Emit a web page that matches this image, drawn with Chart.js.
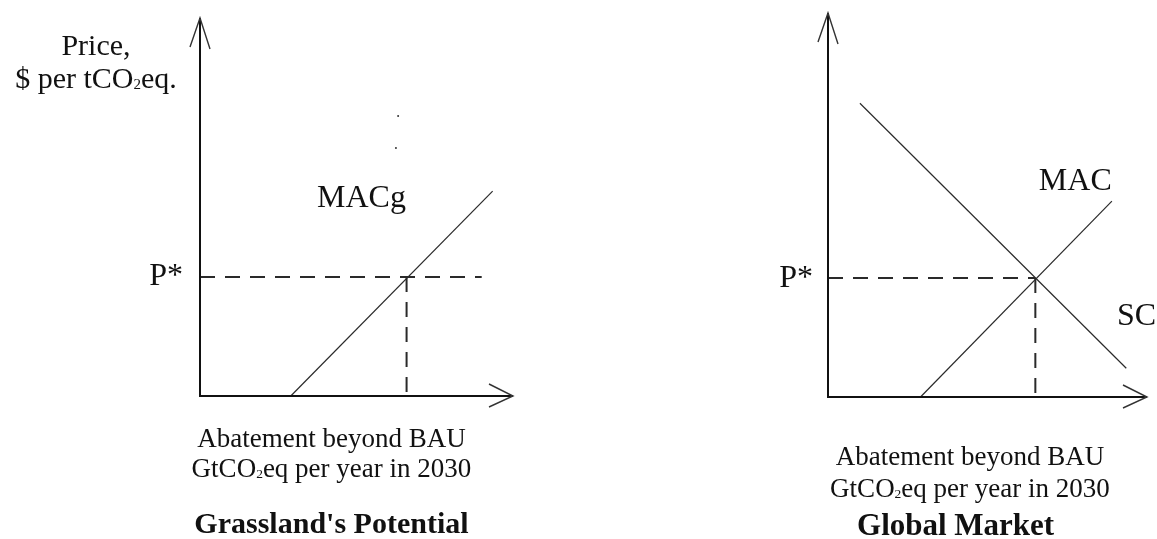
<!DOCTYPE html>
<html lang="en">
<head>
    <meta charset="UTF-8">
    <title>MAC | Grassland x Global Market</title>
    <script src="https://cdn.jsdelivr.net/npm/chart.js"></script>
    <style>
        body { margin: 0; background: #fff; width: 1157px; height: 539px; overflow: hidden; position: relative; }
        canvas { position: absolute; top: 0; }
        #chartGrass { left: 0; }
        #chartGlobal { left: 560px; }
    </style>
</head>
<body>
    <canvas id="chartGrass" width="560" height="539"></canvas>
    <canvas id="chartGlobal" width="597" height="539"></canvas>

<script>
    // schematic axes, no units
    var eixoMax = 10

    // Grassland's Potential
    var macgX = [2.9, 9.35]
    var macgY = [0, 5.42]
    var precoGrass = 3.15
    var qtdGrass = 6.6
    var fimTracoGrass = 9.0
    var pontosSoltosX = [6.33, 6.26]
    var pontosSoltosY = [7.41, 6.56]

    // Global Market
    var macX = [2.9, 8.9]
    var macY = [0, 5.1]
    var scX = [1.0, 9.35]
    var scY = [7.65, 0.75]
    var precoGlobal = 3.1
    var qtdGlobal = 6.5

    var fonte = '"Liberation Serif", "Times New Roman", serif'

    function pares(xs, ys) {
        return xs.map((x, i) => ({ x: x, y: ys[i] }))
    }

    // draws text runs, [texto, sub] - sub = true for the small "2" of CO2
    function desenharTexto(ctx, runs, x, y, align, size, bold) {
        var peso = bold ? 'bold ' : ''
        var larguras = runs.map(r => {
            ctx.font = peso + (r[1] ? size * 0.5 : size) + 'px ' + fonte
            return ctx.measureText(r[0]).width
        })
        var total = larguras.reduce((a, b) => a + b, 0)
        var inicio = x
        if (align == 'center') inicio = x - total / 2
        if (align == 'right') inicio = x - total
        ctx.textAlign = 'left'
        ctx.textBaseline = 'alphabetic'
        runs.forEach((r, i) => {
            ctx.font = peso + (r[1] ? size * 0.5 : size) + 'px ' + fonte
            ctx.fillText(r[0], inicio, r[1] ? y + size * 0.02 : y)
            inicio += larguras[i]
        })
    }

    var esquema = {
        id: 'esquema',
        afterDraw(chart, args, opts) {
            var ctx = chart.ctx
            var xs = chart.scales.x, ys = chart.scales.y
            var x0 = xs.getPixelForValue(0), y0 = ys.getPixelForValue(0)
            var xFim = xs.getPixelForValue(eixoMax), yFim = ys.getPixelForValue(eixoMax)
            ctx.save()
            // eixos
            ctx.strokeStyle = '#111'
            ctx.lineWidth = 2
            ctx.beginPath()
            ctx.moveTo(x0, y0 + 1)
            ctx.lineTo(x0, yFim)
            ctx.moveTo(x0 - 1, y0)
            ctx.lineTo(xFim, y0)
            ctx.stroke()
            // setas abertas
            ctx.strokeStyle = '#333'
            ctx.lineWidth = 1.4
            ctx.beginPath()
            ctx.moveTo(x0 - 10, yFim + 29)
            ctx.lineTo(x0, yFim)
            ctx.lineTo(x0 + 10, yFim + 31)
            ctx.moveTo(xFim - 24, y0 - 12)
            ctx.lineTo(xFim, y0)
            ctx.lineTo(xFim - 24, y0 + 11)
            ctx.stroke()
            // textos
            ctx.fillStyle = '#111'
            opts.textos.forEach(t => {
                var px = xs.getPixelForValue(t.x) + (t.dx || 0)
                var py = ys.getPixelForValue(t.y) + (t.dy || 0)
                desenharTexto(ctx, t.runs, px, py, t.align, t.size, t.bold)
            })
            ctx.restore()
        }
    }

    function opcoes(padding, textos) {
        return {
            responsive: false,
            animation: false,
            events: [],
            layout: { padding: padding },
            scales: {
                x: { type: 'linear', display: false, min: 0, max: eixoMax },
                y: { type: 'linear', display: false, min: 0, max: eixoMax }
            },
            plugins: {
                legend: { display: false },
                tooltip: { enabled: false },
                esquema: { textos: textos }
            }
        }
    }

    function linha(dados, largura, traco) {
        return {
            data: dados,
            showLine: true,
            borderColor: '#2a2a2a',
            borderWidth: largura,
            borderDash: traco || [],
            pointRadius: 0,
            clip: false
        }
    }

    var tituloEixoX = [
        [['Abatement beyond BAU', false]],
        [['GtCO', false], ['2', true], ['eq per year in 2030', false]]
    ]

    var ctx = new Chart(document.getElementById('chartGrass').getContext('2d'), {
        type: 'scatter',
        data: {
            datasets: [
                linha(pares(macgX, macgY), 1.2),
                linha([{ x: 0, y: precoGrass }, { x: fimTracoGrass, y: precoGrass }], 2, [15, 10]),
                linha([{ x: qtdGrass, y: precoGrass }, { x: qtdGrass, y: 0 }], 2, [15, 10]),
                {
                    data: pares(pontosSoltosX, pontosSoltosY),
                    pointRadius: 1,
                    pointBackgroundColor: '#333',
                    pointBorderWidth: 0,
                    showLine: false
                }
            ]
        },
        options: opcoes({ left: 200, right: 47, top: 18, bottom: 143 }, [
            { runs: [['Price,', false]], x: 0, y: eixoMax, dx: -104, dy: 37, align: 'center', size: 30 },
            { runs: [['$ per tCO', false], ['2', true], ['eq.', false]], x: 0, y: eixoMax, dx: -104, dy: 70, align: 'center', size: 30 },
            { runs: [['MACg', false]], x: 3.74, y: 5.0, align: 'left', size: 32 },
            { runs: [['P*', false]], x: 0, y: precoGrass, dx: -17, dy: 8, align: 'right', size: 32 },
            { runs: tituloEixoX[0], x: 4.2, y: 0, dy: 51, align: 'center', size: 27 },
            { runs: tituloEixoX[1], x: 4.2, y: 0, dy: 81, align: 'center', size: 27 },
            { runs: [["Grassland's Potential", false]], x: 4.2, y: 0, dy: 137, align: 'center', size: 30, bold: true }
        ]),
        plugins: [esquema]
    })

    var ctx2 = new Chart(document.getElementById('chartGlobal').getContext('2d'), {
        type: 'scatter',
        data: {
            datasets: [
                linha(pares(macX, macY), 1.2),
                linha(pares(scX, scY), 1.2),
                linha([{ x: 0, y: precoGlobal }, { x: qtdGlobal, y: precoGlobal }], 2, [15, 10]),
                linha([{ x: qtdGlobal, y: precoGlobal }, { x: qtdGlobal, y: 0 }], 2, [15, 10])
            ]
        },
        options: opcoes({ left: 268, right: 10, top: 13, bottom: 142 }, [
            { runs: [['MAC', false]], x: 6.61, y: 5.39, align: 'left', size: 32 },
            { runs: [['SC', false]], x: 9.06, y: 1.875, align: 'left', size: 32 },
            { runs: [['P*', false]], x: 0, y: precoGlobal, dx: -15, dy: 9, align: 'right', size: 32 },
            { runs: tituloEixoX[0], x: 4.45, y: 0, dy: 68, align: 'center', size: 27 },
            { runs: tituloEixoX[1], x: 4.45, y: 0, dy: 100, align: 'center', size: 27 },
            { runs: [['Global Market', false]], x: 4.0, y: 0, dy: 138, align: 'center', size: 31, bold: true }
        ]),
        plugins: [esquema]
    })
</script>
</body>
</html>
